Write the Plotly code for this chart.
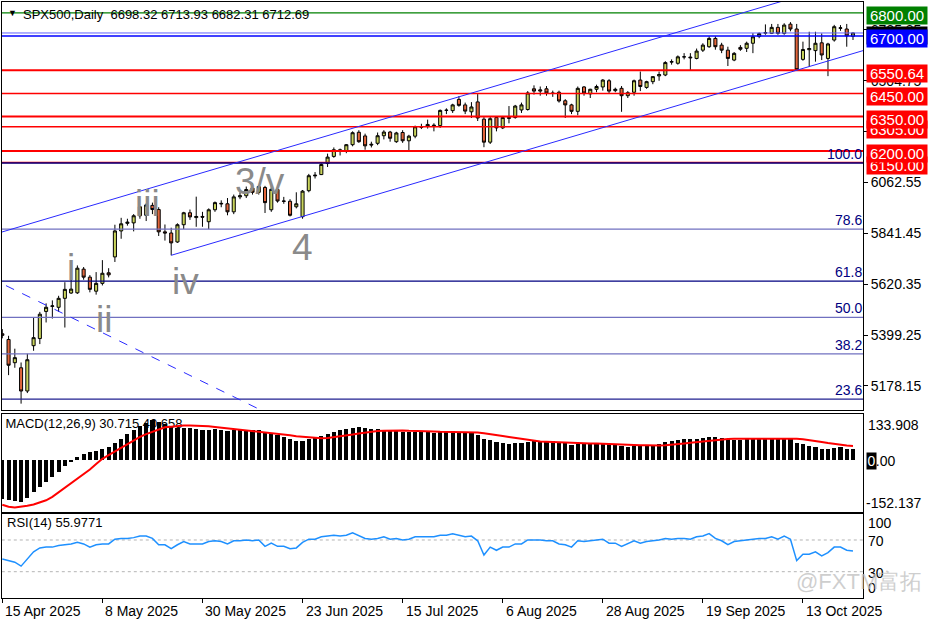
import plotly.graph_objects as go

# ---------------- data ----------------
opens = [
5405,5380,5279,5257,5156,5353,5384,5502,5524,5520,
5559,5582,5583,5686,5651,5590,5624,5670,5739,5852,
5885,5887,5918,5920,5963,5945,5848,5843,5804,5879,
5931,5910,5915,5892,5944,5972,5970,5935,6000,6005,
6038,6020,6041,5944,6032,5982,5981,5957,5914,6027,
6095,6097,6145,6176,6205,6198,6227,6281,6265,6229,
6233,6266,6282,6240,6280,6244,6264,6305,6306,6312,
6310,6376,6375,6424,6400,6370,6413,6338,6238,6345,
6300,6345,6345,6378,6380,6470,6460,6470,6450,6455,
6418,6400,6372,6478,6448,6468,6478,6505,6462,6472,
6440,6455,6508,6476,6501,6526,6530,6586,6581,6609,
6608,6602,6638,6653,6689,6660,6638,6595,6650,6646,
6668,6698,6712,6711,6737,6711,6751,6730,6598,6640,
6636,6670,6602,6682,6733,6730,6698.32]
highs = [
5425,5396,5340,5280,5318,5476,5500,5537,5550,5570,
5629,5640,5702,5695,5660,5673,5725,5690,5879,5909,
5905,5925,5960,5972,5975,5955,5880,5866,5885,5935,
5945,6001,5935,5950,5980,5985,5995,6010,6020,6045,
6060,6050,6048,6050,6040,6000,5990,6020,6030,6100,
6108,6146,6188,6215,6210,6230,6285,6290,6275,6240,
6280,6290,6287,6283,6290,6270,6310,6318,6336,6320,
6380,6385,6405,6438,6410,6412,6447,6347,6350,6350,
6352,6395,6400,6410,6460,6485,6480,6482,6462,6462,
6425,6405,6480,6482,6470,6488,6512,6512,6475,6482,
6460,6510,6545,6505,6523,6545,6590,6598,6615,6625,
6625,6645,6668,6698,6698,6670,6653,6630,6660,6675,
6712,6715,6750,6752,6752,6755,6760,6752,6675,6718,
6718,6711,6670,6748,6747,6752,6713.93]
lows = [
5385,5225,5257,5101,5147,5331,5360,5454,5471,5500,
5432,5578,5578,5640,5585,5575,5615,5650,5717,5818,
5875,5850,5905,5895,5925,5830,5810,5746,5800,5860,
5900,5870,5870,5860,5935,5955,5920,5925,5990,5995,
6010,6010,5930,5935,5975,5970,5915,5950,5905,6020,
6080,6095,6130,6170,6180,6190,6220,6235,6205,6215,
6225,6250,6240,6235,6235,6200,6255,6295,6297,6285,
6300,6360,6365,6392,6360,6343,6330,6216,6230,6285,
6295,6320,6340,6365,6375,6445,6440,6440,6435,6410,
6343,6360,6355,6440,6430,6455,6462,6450,6455,6370,
6430,6440,6460,6470,6490,6505,6525,6575,6575,6598,
6551,6598,6630,6648,6640,6625,6569,6590,6635,6630,
6625,6690,6705,6708,6705,6705,6720,6550.64,6592,6566,
6588,6595,6525,6675,6722,6653,6682.31]
closes = [
5398,5268,5301,5156,5292,5388,5490,5520,5526,5559,
5598,5599,5690,5651,5598,5624,5668,5661,5852,5883,
5890,5918,5957,5965,5945,5848,5843,5800,5879,5931,
5913,5915,5912,5944,5975,5970,5935,6000,6005,6032,
6020,6045,5975,6033,5982,5981,5920,5970,6025,6092,
6092,6141,6173,6205,6198,6227,6279,6240,6222,6226,
6266,6282,6255,6278,6244,6264,6305,6303,6315,6309,
6376,6377,6400,6398,6373,6391,6343,6238,6340,6300,
6345,6342,6395,6400,6452,6460,6465,6452,6451,6417,
6400,6372,6472,6452,6468,6480,6508,6460,6468,6440,
6453,6505,6480,6501,6523,6532,6584,6588,6609,6609,
6605,6634,6660,6689,6653,6638,6602,6624,6642,6668,
6696,6710,6714,6737,6711,6747,6730,6553,6641,6645,
6668,6617,6665,6740,6735,6700,6712.69]

macd_main = [
-115,-117,-120,-124,-112,-95,-80,-64,-50,-35,
-18,-6,8,18,24,27,32,37,50,62,
75,88,100,108,115,112,104,95,92,93,
92,90,88,88,89,88,85,86,86,87,
86,86,80,78,72,67,60,55,56,60,
64,70,76,82,86,90,94,95,93,90,
89,88,86,85,82,80,81,80,80,79,
81,82,83,82,80,78,74,62,58,52,
50,47,48,48,52,54,56,56,55,52,
48,44,46,45,46,47,48,46,44,40,
39,41,41,42,44,46,51,54,58,60,
60,62,64,68,67,64,60,59,59,60,
62,63,63,65,64,65,64,50,45,40,
38,33,32,36,37,33,30.715]
macd_signal = [
-131,-137,-139,-137,-134,-130,-125,-118,-108,-95,
-80,-68,-55,-42,-28,-12,3,14,25,36,
47,58,67,75,82,89,95,97,99,100,
100,100,99,98,96,94,92,90,88,87,
85,84,82,80,78,75,72,69,67,65,
64,63,64,66,68,71,74,77,80,82,
84,85,86,86,86,85,85,84,83,83,
82,82,82,82,81,81,80,78,76,73,
70,67,64,61,58,56,54,53,52,52,
51,50,50,49,48,48,47,47,46,45,
44,44,43,43,42,42,43,44,46,48,
50,52,54,57,59,60,61,62,62,62,
62,62,62,62,62,63,63,62,60,58,
55,52,49,46,44,42,40.658]
rsi = [
46,44,42,37,46,55,60,61,61,63,
64,65,67,65,61,64,65,65,71,72,
72,73,75,75,72,64,64,59,64,68,
65,65,65,68,69,68,65,69,69,70,
69,70,62,66,62,62,59,60,67,71,
71,74,75,76,75,76,79,75,72,71,
72,74,71,72,70,71,74,74,74,74,
76,76,78,76,74,75,69,51,61,57,
61,61,65,65,70,70,70,69,69,65,
64,61,69,68,69,70,71,66,66,62,
65,69,66,68,69,70,72,71,72,72,
71,74,75,78,72,69,64,68,69,70,
71,72,72,74,71,75,71,44,52,52,
55,50,54,61,61,57,55.98]

tick_idx = [0, 16, 32, 48, 64, 80, 96, 112, 128]
tick_labels = ["15 Apr 2025", "8 May 2025", "30 May 2025", "23 Jun 2025", "15 Jul 2025",
               "6 Aug 2025", "28 Aug 2025", "19 Sep 2025", "13 Oct 2025"]
price_ticks = [5178.15, 5399.25, 5620.35, 5841.45, 6062.55, 6283.65, 6504.75, 6725.85]

# horizontal levels: price, colour, width
level_prices = [6800.00, 6712.69, 6700.00, 6550.64, 6450.00, 6350.00, 6305.00, 6200.00, 6150.00]
level_colors = ["#008000", "#6060ff", "#0000ff", "#ff0000", "#ff0000", "#ff0000", "#ff0000", "#ff0000", "#ff0000"]
level_widths = [1.2, 1, 1.5, 2, 1.5, 2, 1.5, 2, 1.5]

# price labels on the right (drawing order)
box_texts = ["6712.69", "6800.00", "6700.00", "6305.00", "6350.00", "6150.00", "6200.00", "6550.64", "6450.00"]
box_prices = [6712.69, 6800.00, 6700.00, 6305.00, 6350.00, 6150.00, 6200.00, 6550.64, 6450.00]
box_colors = ["#000000", "#008000", "#0000ff", "#ff0000", "#ff0000", "#ff0000", "#ff0000", "#ff0000", "#ff0000"]

fib_labels = ["100.0", "78.6", "61.8", "50.0", "38.2", "23.6"]
fib_prices = [6147.4, 5860, 5634, 5476, 5317, 5121]
fib_colors = ["#000080", "#7070c0", "#000080", "#7070c0", "#7070c0", "#202090"]

# trend lines (anchor bars / prices)
lower_idx = [27, 127]
lower_price = [5746, 6550.64]
upper_idx = [27, 127]
upper_price = [6065, 6869.64]
dash_idx = [0, 40]
dash_price = [5622, 5091]

wave_texts = ["i", "ii", "iii", "iv", "3/v", "4"]
wave_idx = [11.0, 16.3, 23.2, 29.3, 41.2, 48.0]
wave_price = [5695, 5465, 5973, 5630, 6069, 5778]

# ---------------- figure ----------------
W, H = 936, 624
L, R, T, B = 2, 73, 2, 26
PW, PH = W - L - R, H - T - B
FONT = "Liberation Sans, Arial, sans-serif"

def pxx(px):
    return (px - L) / PW

def pxy(py):
    return (H - B - py) / PH

n = len(closes)
idx = list(range(n))
XR = [-0.05, 137.6]

fig = go.Figure()

fig.add_trace(go.Candlestick(
    x=idx, open=opens, high=highs, low=lows, close=closes,
    increasing=dict(line=dict(color="black", width=1), fillcolor="#c9d45c"),
    decreasing=dict(line=dict(color="black", width=1), fillcolor="#e2663c"),
    whiskerwidth=0, xaxis="x", yaxis="y", showlegend=False, hoverinfo="skip"))

for p, c, w in zip(level_prices, level_colors, level_widths):
    fig.add_trace(go.Scatter(x=[-2, 140], y=[p, p], mode="lines", line=dict(color=c, width=w),
                             xaxis="x", yaxis="y", showlegend=False, hoverinfo="skip"))
for p, c in zip(fib_prices, fib_colors):
    fig.add_trace(go.Scatter(x=[-2, 140], y=[p, p], mode="lines", line=dict(color=c, width=1.3),
                             xaxis="x", yaxis="y", showlegend=False, hoverinfo="skip"))

def extend(ix, pr, x0, x1):
    s = (pr[1] - pr[0]) / (ix[1] - ix[0])
    return [x0, x1], [pr[0] + s * (x0 - ix[0]), pr[0] + s * (x1 - ix[0])]

lx, ly = extend(lower_idx, lower_price, lower_idx[0], 150)
ux, uy = extend(upper_idx, upper_price, -2, 150)
dx, dy = extend(dash_idx, dash_price, -2, 50)
fig.add_trace(go.Scatter(x=lx, y=ly, mode="lines", line=dict(color="#2a2aff", width=1),
                         xaxis="x", yaxis="y", showlegend=False, hoverinfo="skip"))
fig.add_trace(go.Scatter(x=ux, y=uy, mode="lines", line=dict(color="#2a2aff", width=1),
                         xaxis="x", yaxis="y", showlegend=False, hoverinfo="skip"))
fig.add_trace(go.Scatter(x=dx, y=dy, mode="lines", line=dict(color="#2a2aff", width=1, dash="dash"),
                         xaxis="x", yaxis="y", showlegend=False, hoverinfo="skip"))

# MACD label (behind the histogram)
fig.add_trace(go.Scatter(x=[0.5], y=[102], mode="text", text=["MACD(12,26,9) 30.715 40.658"],
                         textposition="middle right", textfont=dict(family=FONT, size=13, color="black"),
                         cliponaxis=False, xaxis="x2", yaxis="y2", showlegend=False, hoverinfo="skip"))
fig.add_trace(go.Bar(x=idx, y=macd_main, width=0.66, marker=dict(color="black", line=dict(width=0)),
                     xaxis="x2", yaxis="y3", showlegend=False, hoverinfo="skip"))
fig.add_trace(go.Scatter(x=idx, y=macd_signal, mode="lines", line=dict(color="#ff0000", width=2),
                         xaxis="x2", yaxis="y3", showlegend=False, hoverinfo="skip"))

# RSI
for lv in [70, 30]:
    fig.add_trace(go.Scatter(x=[-2, 140], y=[lv, lv], mode="lines",
                             line=dict(color="#b4b4b4", width=1, dash="dot"),
                             xaxis="x3", yaxis="y4", showlegend=False, hoverinfo="skip"))
fig.add_trace(go.Scatter(x=idx, y=rsi, mode="lines", line=dict(color="#1e90ff", width=1.5),
                         xaxis="x3", yaxis="y4", showlegend=False, hoverinfo="skip"))

axis_common = dict(showgrid=False, zeroline=False, showline=True, mirror=True,
                   linecolor="black", linewidth=1)

ann = []
def add(text, x, y, xref="paper", yref="paper", xanchor="left", yanchor="middle", size=13,
        color="black", **kw):
    d = dict(text=text, x=x, y=y, xref=xref, yref=yref, xanchor=xanchor, yanchor=yanchor,
             showarrow=False, font=dict(family=FONT, size=size, color=color))
    d.update(kw)
    ann.append(d)

add("SPX500,Daily  6698.32 6713.93 6682.31 6712.69", pxx(21), pxy(15), size=13)
add("▼", pxx(6), pxy(13), size=9)

for t, p, c in zip(fib_labels, fib_prices, fib_colors):
    add(t, 1, p, yref="y", xanchor="right", yanchor="bottom", size=14, color="#000080",
        borderpad=0)

for t, ix, p in zip(wave_texts, wave_idx, wave_price):
    add(t, ix, p, xref="x", yref="y", xanchor="center", size=37, color="#8a8a8a")

for t, p, c in zip(box_texts, box_prices, box_colors):
    add(t, 1, p, yref="y", size=15, color="white", bgcolor=c, width=60, height=17,
        borderpad=0, xshift=3, yshift=-3, align="center")

# MACD axis labels
add("133.908", pxx(866), pxy(425), size=14)
add("-152.137", pxx(864), pxy(503), size=14)
add("0.00", pxx(866), pxy(461), size=14)
add("0", pxx(866), pxy(461), size=14, color="white", bgcolor="black", width=9, height=16,
    borderpad=0, align="center")

# RSI labels
add("RSI(14) 55.9771", pxx(5), pxy(522), size=13)
for t, y in zip(["100", "70", "30", "0"], [523, 541, 573, 588]):
    add(t, pxx(866), pxy(y), size=14)

# date labels
for ti, tl in zip(tick_idx, tick_labels):
    add(tl, ti, pxy(611), xref="x3", size=14, xshift=1)

# watermark
add("@FXTM富拓", pxx(924), pxy(581), xanchor="right", size=22,
    color="rgba(190,190,190,0.75)")

fig.update_layout(
    width=W, height=H, margin=dict(l=L, r=R, t=T, b=B),
    paper_bgcolor="white", plot_bgcolor="white", showlegend=False,
    font=dict(family=FONT, size=13, color="black"),
    xaxis=dict(domain=[0, 1], anchor="y", range=XR, showticklabels=False, ticks="",
               rangeslider=dict(visible=False), **axis_common),
    yaxis=dict(domain=[pxy(410), 1], anchor="x", range=[5073.4, 6847.4], side="right",
               tickmode="array", tickvals=price_ticks, ticktext=[f"{v:.2f}" for v in price_ticks],
               ticks="outside", ticklen=4, tickcolor="black",
               tickfont=dict(family=FONT, size=14, color="black"), **axis_common),
    xaxis2=dict(domain=[0, 1], anchor="y2", matches="x", range=XR, showticklabels=False,
                ticks="", **axis_common),
    yaxis2=dict(domain=[pxy(512), pxy(414)], anchor="x2", range=[-152.137, 133.908],
                showticklabels=False, ticks="", **axis_common),
    yaxis3=dict(overlaying="y2", anchor="x2", range=[-152.137, 133.908], visible=False,
                showgrid=False, zeroline=False),
    xaxis3=dict(domain=[0, 1], anchor="y4", matches="x", range=XR, showticklabels=False,
                tickmode="array", tickvals=tick_idx, ticks="outside", ticklen=4,
                tickcolor="black", **axis_common),
    yaxis4=dict(domain=[0, pxy(514)], anchor="x3", range=[-3.2, 102.8],
                showticklabels=False, ticks="", **axis_common),
    annotations=ann,
    bargap=0,
)

fig.write_html(
    "out.html",
    config={"displayModeBar": False},
    post_script="document.body.style.margin='0';document.body.style.overflow='hidden';"
                "document.documentElement.style.overflow='hidden';",
)
